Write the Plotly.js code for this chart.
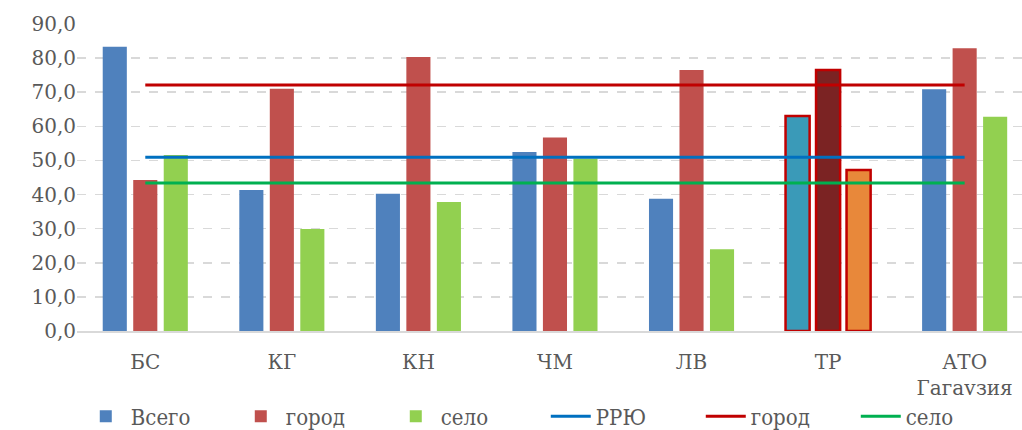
<!DOCTYPE html>
<html><head><meta charset="utf-8">
<script src="https://cdn.plot.ly/plotly-3.0.1.min.js"></script>
<style>body{margin:0;background:#fff}#c{width:1022px;height:430px}</style>
</head><body><div id="c"></div>
<script>
const categories = ['БС','КГ','КН','ЧМ','ЛВ','ТР','АТО<br>Гагаузия'];
const vsego = [83.3, 41.3, 40.2, 52.5, 38.8, 63.0, 70.9];
const gorod = [44.3, 71.0, 80.3, 56.7, 76.5, 76.5, 82.9];
const selo  = [51.6, 29.9, 37.8, 50.6, 24.0, 47.2, 62.8];
const rryu  = [50.9, 50.9, 50.9, 50.9, 50.9, 50.9, 50.9];
const gorodAvg = [72.1, 72.1, 72.1, 72.1, 72.1, 72.1, 72.1];
const seloAvg  = [43.4, 43.4, 43.4, 43.4, 43.4, 43.4, 43.4];

const hiIdx = 5;
function cols(base, hi){ return categories.map((c,i)=> i===hiIdx ? hi : base); }
const outline = categories.map((c,i)=> i===hiIdx ? '#c00000' : 'rgba(0,0,0,0)');
const outlineW = categories.map((c,i)=> i===hiIdx ? 2.5 : 0);

const traces = [
  {type:'bar', name:'Всего', x:categories, y:vsego,
   marker:{color:cols('#4f81bd','#3a9ab8'), line:{color:outline, width:outlineW}}},
  {type:'bar', name:'город', x:categories, y:gorod,
   marker:{color:cols('#c0504d','#7b2323'), line:{color:outline, width:outlineW}}},
  {type:'bar', name:'село', x:categories, y:selo,
   marker:{color:cols('#92d050','#e8883a'), line:{color:outline, width:outlineW}}},
  {type:'scatter', mode:'lines', name:'РРЮ', x:categories, y:rryu, line:{color:'#0070c0', width:3}},
  {type:'scatter', mode:'lines', name:'город', x:categories, y:gorodAvg, line:{color:'#c00000', width:3}},
  {type:'scatter', mode:'lines', name:'село', x:categories, y:seloAvg, line:{color:'#00b050', width:3}}
];

const layout = {
  width:1022, height:430,
  margin:{l:77, r:0, t:24, b:99, autoexpand:false},
  paper_bgcolor:'#fff', plot_bgcolor:'#fff',
  separators:', ',
  barmode:'group', bargap:0.33, bargroupgap:0.21,
  showlegend:true,
  legend:{orientation:'h', x:0.004, xanchor:'left', y:-0.21, yanchor:'top',
    font:{family:'DejaVu Serif Condensed, DejaVu Serif, serif', size:22, color:'#595959'},
    entrywidth:100, traceorder:'normal', itemwidth:40},
  xaxis:{type:'category', range:[-0.5, 6.42], showgrid:false, showline:true, linecolor:'#d9d9d9', linewidth:1.5,
    ticks:'', automargin:false, ticklabelstandoff:12,
    tickfont:{family:'DejaVu Serif, serif', size:20, color:'#595959'}},
  yaxis:{range:[0,90], dtick:10, tickformat:'.1f', showgrid:true, gridcolor:'#d9d9d9',
    griddash:'dash', gridwidth:1.5, zeroline:false, showline:false, ticks:'', automargin:false,
    tickfont:{family:'DejaVu Serif, serif', size:20, color:'#595959'}},
};
Plotly.newPlot('c', traces, layout, {displayModeBar:false, staticPlot:true});
</script></body></html>
